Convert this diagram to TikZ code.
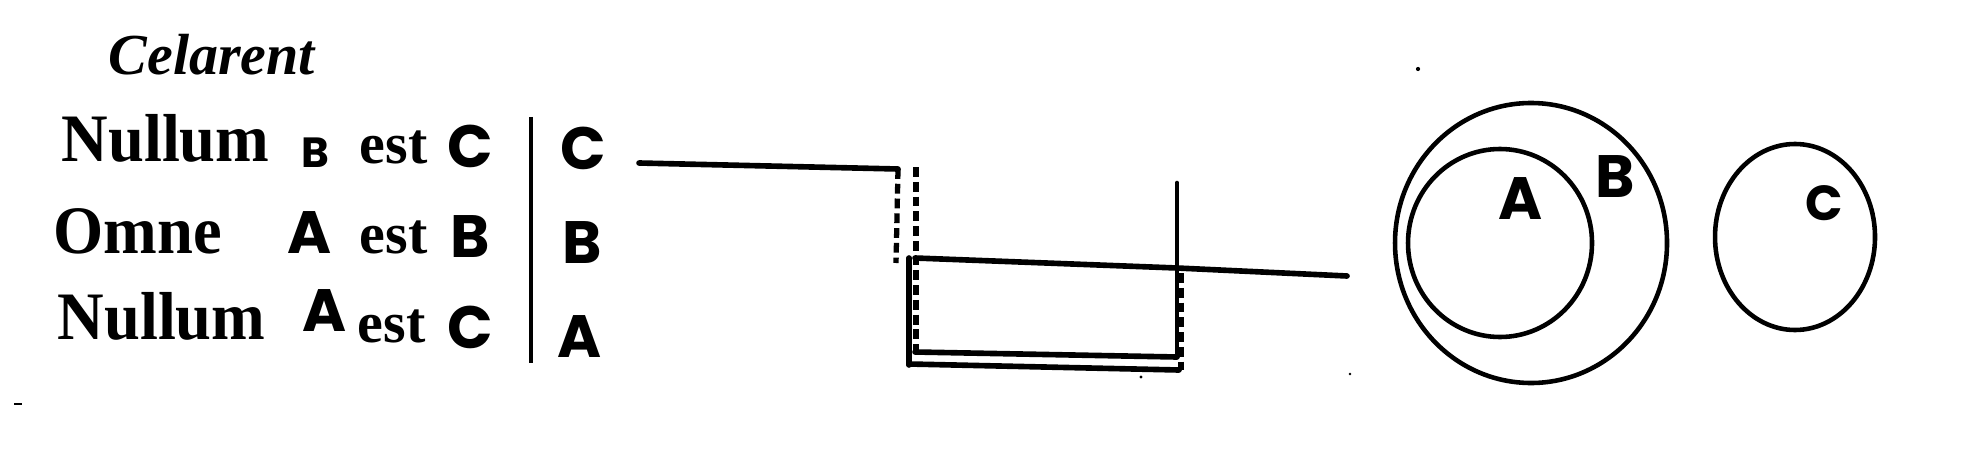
\documentclass[tikz,border=0pt]{standalone}
\usepackage{fontspec}
\setmainfont{Liberation Serif}
\newfontfamily\oldserif[FakeStretch=0.95]{Liberation Serif}
\newfontfamily\handf{Poppins}
\begin{document}
\begin{tikzpicture}[x=0.01cm,y=-0.01cm,
  serif/.style={anchor=base west,inner sep=0pt,font=\oldserif\bfseries\fontsize{19.3}{20}\selectfont},
  estf/.style={anchor=base west,inner sep=0pt,font=\bfseries\fontsize{16.5}{17}\selectfont},
  hand/.style={inner sep=0pt,font=\handf\bfseries\fontsize{17}{17}\selectfont},
  handsmall/.style={inner sep=0pt,font=\handf\bfseries\fontsize{12}{12}\selectfont},
  ink/.style={line width=1.6pt,line cap=round},
  dashink/.style={line width=1.5pt,dash pattern=on 2.8pt off 1.4pt},
  ring/.style={line width=1.3pt},
  speck/.style={fill=black,inner sep=0pt,circle,minimum size=1.2pt}]
\useasboundingbox (0,0) rectangle (1980,470);
% title
\node[anchor=base west,inner sep=0pt,font=\bfseries\itshape\fontsize{16.5}{17}\selectfont] (title) at (108,75) {Celarent};
% row 1
\node[serif] (n1) at (61,162) {Nullum};
\node[handsmall] (b1) at (315,153) {B};
\node[estf] (e1) at (359,163) {est};
\node[hand] (c1) at (470,146) {C};
% row 2
\node[serif] (o2) at (53,253) {Omne};
\node[hand] (a2) at (310,233) {A};
\node[estf] (e2) at (359,253) {est};
\node[hand] (b2) at (470,237) {B};
% row 3
\node[serif] (n3) at (57,339) {Nullum};
\node[hand] (a3) at (325,311) {A};
\node[estf] (e3) at (357,342) {est};
\node[hand] (c3) at (470,327) {C};
% bar and terms
\coordinate (bartop) at (531,117);
\coordinate (barbot) at (531,363);
\draw[line width=1.4pt] (bartop) -- (barbot);
\node[hand] (rc) at (583,148) {C};
\node[hand] (rb) at (582,243) {B};
\node[hand] (ra) at (580,337) {A};
% line diagram
\coordinate (c0) at (639,163);
\coordinate (c1e) at (898,169);
\coordinate (cd) at (896,263);
\coordinate (d2t) at (916,167);
\coordinate (d2b) at (916,352);
\coordinate (b0) at (915,258);
\coordinate (bx) at (1177,268);
\coordinate (b1e) at (1347,276);
\coordinate (ltop) at (909,258);
\coordinate (lbot) at (909,365);
\coordinate (rtop) at (1177,183);
\coordinate (rbot) at (1177,357);
\coordinate (rdt) at (1181,273);
\coordinate (rdb) at (1181,370);
\coordinate (ib0) at (915,352);
\coordinate (ib1) at (1177,357);
\coordinate (ob0) at (909,364);
\coordinate (ob1) at (1179,370);
\draw[ink] (c0) -- (c1e);
\draw[dashink] (c1e) -- (cd);
\draw[dashink] (d2t) -- (d2b);
\draw[ink] (b0) -- (bx) -- (b1e);
\draw[ink] (ltop) -- (lbot);
\draw[line width=1.3pt,line cap=round] (rtop) -- (rbot);
\draw[dashink] (rdt) -- (rdb);
\draw[ink] (ib0) -- (ib1);
\draw[ink] (ob0) -- (ob1);
% circles
\draw[ring] (1531,243) ellipse [x radius=136,y radius=140];
\draw[ring] (1500,243) ellipse [x radius=92,y radius=94];
\draw[ring] (1795,237) ellipse [x radius=80,y radius=93];
\node[hand] (la) at (1520,199) {A};
\node[hand] (lb) at (1615,177) {B};
\node[hand,font=\handf\bfseries\fontsize{14}{14}\selectfont] (lc) at (1824,203) {C};
% specks
\node[speck] (s1) at (1418,69) {};
\node[speck,minimum size=0.8pt] (s2) at (1350,374) {};
\node[speck,minimum size=0.9pt] (s3) at (1141,377) {};
\node[fill=black,inner sep=0pt,minimum width=2.5pt,minimum height=0.8pt] (s4) at (18,404) {};
\end{tikzpicture}
\end{document}
